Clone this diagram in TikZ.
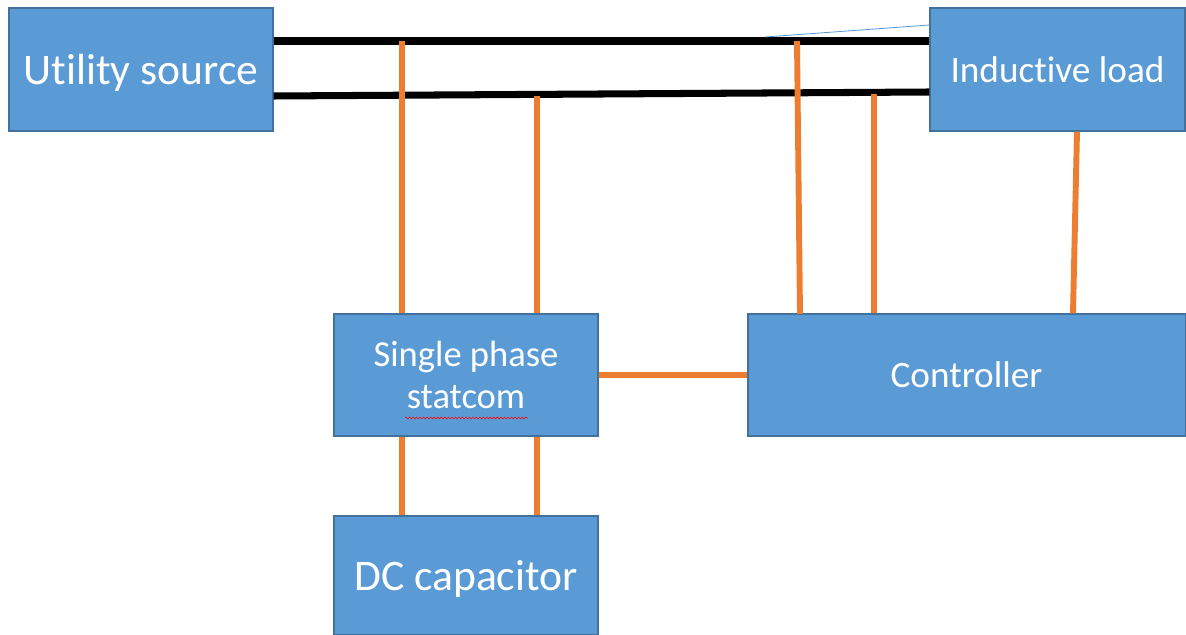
\documentclass[tikz,border=0pt]{standalone}
\usepackage{fontspec}
\setmainfont{Carlito}[Ligatures=NoCommon]
\usetikzlibrary{decorations.pathmorphing}
\definecolor{boxblue}{HTML}{5B9BD5}
\definecolor{boxedge}{HTML}{41719C}
\definecolor{wireorange}{HTML}{ED7D31}
\tikzset{
  block/.style={draw=boxedge, line width=0.8pt, fill=boxblue, text=white, align=center, inner sep=0pt, text depth=0pt},
  bus/.style={line width=5pt, black},
  wire/.style={line width=4.2pt, wireorange}
}
\begin{document}
\begin{tikzpicture}[x=0.025cm, y=-0.025cm]
        \useasboundingbox (0,0) rectangle (1186,635);
        % Blocks
        \node[block, minimum width=6.6cm, minimum height=3.075cm, font=\fontsize{31}{37}\selectfont] (us) at (141,69.5) {Utility source};
        \node[block, minimum width=6.375cm, minimum height=3.075cm, font=\fontsize{26.5}{32}\selectfont] (il) at (1057.5,69.5) {Inductive load};
        \node[block, minimum width=6.6cm, minimum height=3.05cm, font=\fontsize{26}{30}\selectfont] (st) at (466,375) {Single phase\\statcom};
        \node[block, minimum width=10.925cm, minimum height=3.05cm, font=\fontsize{26.5}{32}\selectfont] (ct) at (966.5,375) {Controller};
        \node[block, minimum width=6.6cm, minimum height=2.975cm, font=\fontsize{31}{37}\selectfont] (dc) at (466,575.5) {DC capacitor};
        \draw[red, line width=0.4pt, decorate, decoration={snake, amplitude=0.6pt, segment length=2.5pt}] (405,418) -- (528,418);

        % Lines
        \draw[bus] (us.east |- 0,41) -- (il.west |- 0,41);
        \draw[bus] (us.east |- 0,96) -- (il.west |- 0,92);
        \coordinate (k) at (765,37);
        \draw[boxblue, line width=0.6pt] (k) -- (il.west |- 0,25);

        % Taps
        \coordinate (a1) at (402,41);
        \coordinate (a2) at (537,96);
        \coordinate (b1) at (797,41);
        \coordinate (b2) at (874,94);
        \draw[wire] (a1) -- (st.north -| a1);
        \draw[wire] (a2) -- (st.north -| a2);
        \draw[wire] (b1) -- (800,314);
        \draw[wire] (b2) -- (ct.north -| b2);
        \draw[wire] (il.south -| 1077,0) -- (ct.north -| 1073,0);
        \draw[wire] (st.east) -- (st.east -| ct.west);
        \draw[wire] (st.south -| a1) -- (dc.north -| a1);
        \draw[wire] (st.south -| a2) -- (dc.north -| a2);
    \end{tikzpicture}
\end{document}
